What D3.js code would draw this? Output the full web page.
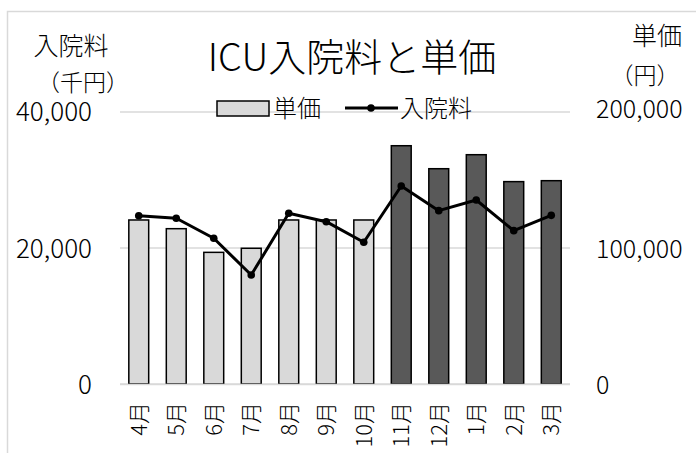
<!DOCTYPE html>
<html><head><meta charset="utf-8">
<script src="https://cdn.jsdelivr.net/npm/d3@7"></script>
<style>body{margin:0;background:#fff}svg{display:block}text{font-family:"Noto Sans CJK JP","Noto Sans",sans-serif;font-weight:300;fill:#000}</style>
</head><body>
<svg id="c" width="696" height="453"></svg>
<script>
const months = ["4月","5月","6月","7月","8月","9月","10月","11月","12月","1月","2月","3月"];
const unitPrice = [120600,114200,96800,99800,120600,120600,120600,175200,158300,168600,148800,149500];
const revenue = [24750,24370,21430,16030,25100,23870,20840,29120,25490,27060,22550,24800];
const darkFrom = 7;
const leftTicks = [0,20000,40000];
const rightTicks = [0,100000,200000];

const svg = d3.select("#c");
svg.append("rect").attr("x",7.5).attr("y",11.5).attr("width",700).attr("height",460)
  .attr("fill","#fff").attr("stroke","#d9d9d9").attr("stroke-width",1.5);

const x = d3.scaleBand().domain(months).range([120,570]).paddingInner(0.47).paddingOuter(0.235);
const yL = d3.scaleLinear().domain([0,40000]).range([384,112]);
const yR = d3.scaleLinear().domain([0,200000]).range([384,112]);

svg.append("g").selectAll("line").data(leftTicks).join("line")
  .attr("x1",120).attr("x2",570).attr("y1",d=>yL(d)).attr("y2",d=>yL(d))
  .attr("stroke","#d9d9d9").attr("stroke-width",1.5);

const fmt = d3.format(",");
const gl = svg.append("g").attr("transform","translate(92,0)")
  .call(d3.axisLeft(yL).tickValues(leftTicks).tickFormat(fmt).tickSize(0).tickPadding(0));
gl.select(".domain").remove();
gl.selectAll("text").attr("font-size",26).attr("dy","0.36em").style("font-family",null);
gl.selectAll(".tick").filter(d=>d===40000).select("text").attr("dy","0.32em");

const gr = svg.append("g").attr("transform","translate(596,0)")
  .call(d3.axisRight(yR).tickValues(rightTicks).tickFormat(fmt).tickSize(0).tickPadding(0));
gr.select(".domain").remove();
gr.selectAll("text").attr("font-size",25).attr("dy","0.36em").style("font-family",null);
gr.selectAll(".tick").filter(d=>d===200000).select("text").attr("dy","0.2em");

svg.append("g").selectAll("rect").data(months).join("rect")
  .attr("x",d=>x(d)).attr("width",x.bandwidth())
  .attr("y",(d,i)=>yR(unitPrice[i])).attr("height",(d,i)=>yR(0)-yR(unitPrice[i]))
  .attr("fill",(d,i)=>i>=darkFrom?"#595959":"#d9d9d9")
  .attr("stroke","#000").attr("stroke-width",1.5);

svg.append("line").attr("x1",120).attr("x2",570).attr("y1",384.5).attr("y2",384.5)
  .attr("stroke","#d9d9d9").attr("stroke-width",1.5);

const line = d3.line().x((d,i)=>x(months[i])+x.bandwidth()/2).y(d=>yL(d));
svg.append("path").datum(revenue).attr("d",line).attr("fill","none")
  .attr("stroke","#000").attr("stroke-width",3).attr("stroke-linejoin","round");
svg.append("g").selectAll("circle").data(revenue).join("circle")
  .attr("cx",(d,i)=>x(months[i])+x.bandwidth()/2).attr("cy",d=>yL(d)).attr("r",3.8).attr("fill","#000");

const gx = svg.append("g").attr("transform","translate(0,394)")
  .call(d3.axisBottom(x).tickSize(0).tickPadding(0));
gx.select(".domain").remove();
gx.selectAll("text").style("font-family",null).attr("font-size",22)
  .attr("transform","rotate(-90)").attr("text-anchor","end").attr("x",-8).attr("y",0).attr("dy","0.36em");

svg.append("text").attr("x",352).attr("y",71).attr("text-anchor","middle").attr("font-size",38).text("ICU入院料と単価");

svg.append("text").attr("x",71).attr("y",55).attr("text-anchor","middle").attr("font-size",25).text("入院料");
svg.append("text").attr("x",83).attr("y",91).attr("text-anchor","middle").attr("font-size",23).text("（千円）");
svg.append("text").attr("x",657).attr("y",45).attr("text-anchor","middle").attr("font-size",25).text("単価");
svg.append("text").attr("x",645).attr("y",84).attr("text-anchor","middle").attr("font-size",23).text("（円）");

const lg = svg.append("g");
lg.append("rect").attr("x",217).attr("y",101).attr("width",52).attr("height",15)
  .attr("fill","#d9d9d9").attr("stroke","#000").attr("stroke-width",1.5);
lg.append("text").attr("x",273).attr("y",117).attr("font-size",24).text("単価");
lg.append("line").attr("x1",345).attr("x2",398).attr("y1",108).attr("y2",108).attr("stroke","#000").attr("stroke-width",3);
lg.append("circle").attr("cx",371).attr("cy",108).attr("r",3.8).attr("fill","#000");
lg.append("text").attr("x",400).attr("y",117).attr("font-size",24).text("入院料");
</script>
</body></html>
